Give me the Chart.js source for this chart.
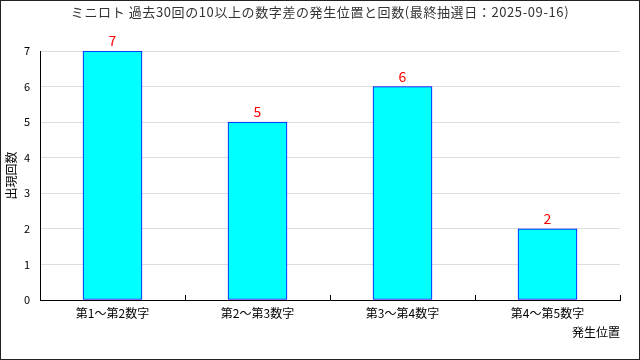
<!DOCTYPE html>
<html>
<head>
<meta charset="utf-8">
<script src="https://cdn.jsdelivr.net/npm/chart.js@4"></script>
<style>
  body { margin: 0; background: #fff; }
  canvas { display: block; }
</style>
</head>
<body>
<canvas id="diffChart" width="640" height="360"></canvas>
<script>
// 発生位置ごとの出現回数
const positions = ['第1～第2数字', '第2～第3数字', '第3～第4数字', '第4～第5数字'];
const counts = [7, 5, 6, 2];
const yTicks = [0, 1, 2, 3, 4, 5, 6, 7];
const chartTitle = 'ミニロト 過去30回の10以上の数字差の発生位置と回数(最終抽選日：2025-09-16)';

const FONT = "'Noto Sans CJK JP', 'DejaVu Sans', sans-serif";

// タイトル・値ラベル・x軸の目盛り・外枠
const extras = {
  id: 'extras',
  afterDatasetsDraw(chart) {
    const ctx = chart.ctx;
    const meta = chart.getDatasetMeta(0);
    ctx.save();
    ctx.fillStyle = '#ff0000';
    ctx.font = '14px ' + FONT;
    ctx.textAlign = 'center';
    ctx.textBaseline = 'bottom';
    meta.data.forEach((bar, i) => {
      ctx.fillText(counts[i], bar.x, bar.y - 3);
    });
    ctx.restore();
  },
  afterDraw(chart) {
    const ctx = chart.ctx;
    const area = chart.chartArea;
    ctx.save();
    ctx.fillStyle = '#333';
    ctx.font = '13px ' + FONT;
    ctx.letterSpacing = '0.6px';
    ctx.textAlign = 'center';
    ctx.textBaseline = 'middle';
    ctx.fillText(chartTitle, chart.width / 2, 12);
    ctx.letterSpacing = '0px';

    ctx.strokeStyle = '#000';
    ctx.lineWidth = 1;
    const step = (area.right - area.left) / positions.length;
    for (let i = 1; i <= positions.length; i++) {
      const px = Math.round(area.left + step * i) + 0.5;
      ctx.beginPath();
      ctx.moveTo(px, area.bottom);
      ctx.lineTo(px, area.bottom - 5);
      ctx.stroke();
    }
    ctx.strokeStyle = '#222';
    ctx.strokeRect(0.5, 0.5, chart.width - 1, chart.height - 1);
    ctx.restore();
  }
};

const ctxDiff = document.getElementById('diffChart').getContext('2d');
new Chart(ctxDiff, {
  type: 'bar',
  data: {
    labels: positions,
    datasets: [{
      data: counts,
      backgroundColor: '#00ffff',
      borderColor: '#0000ff',
      borderWidth: 1,
      borderSkipped: false,
      barThickness: 59
    }]
  },
  plugins: [extras],
  options: {
    responsive: false,
    animation: false,
    layout: { padding: { left: 0, right: 20, top: 51, bottom: 0 } },
    plugins: {
      legend: { display: false },
      tooltip: { enabled: false },
      title: { display: false }
    },
    scales: {
      x: {
        grid: { display: false },
        border: { color: '#000' },
        ticks: { color: '#000', font: { family: FONT, size: 12 }, padding: -2, maxRotation: 0 },
        title: {
          display: true,
          text: '発生位置',
          align: 'end',
          color: '#000',
          font: { family: FONT, size: 12 },
          padding: { top: 0, bottom: 20 }
        },
        afterFit(scale) { scale.height = 60; }
      },
      y: {
        min: 0,
        max: 7,
        afterBuildTicks(scale) { scale.ticks = yTicks.map(v => ({ value: v })); },
        grid: { color: '#dddddd', drawTicks: false },
        border: { color: '#000' },
        ticks: { color: '#000', font: { family: FONT, size: 11 }, padding: 10 },
        title: {
          display: true,
          text: '出現回数',
          color: '#000',
          font: { family: FONT, size: 12 },
          padding: { top: 4, bottom: 0 }
        },
        afterFit(scale) { scale.width = 40; }
      }
    }
  }
});
</script>
</body>
</html>
